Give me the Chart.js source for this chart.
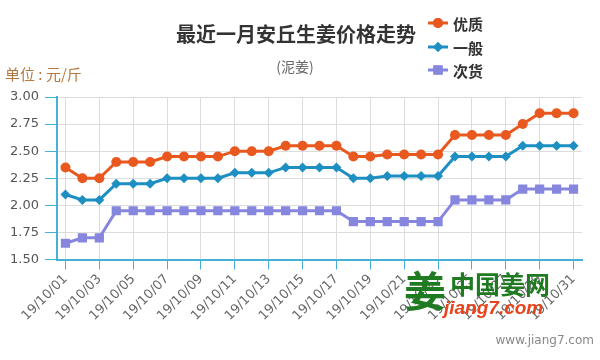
<!DOCTYPE html>
<html>
<head>
<meta charset="utf-8">
<script src="https://cdn.jsdelivr.net/npm/chart.js@4.4.0/dist/chart.umd.min.js"></script>
<style>
  html, body { margin: 0; padding: 0; background: #fff; }
  #wrap { width: 600px; height: 360px; position: relative; }
</style>
</head>
<body>
<div id="wrap"><canvas id="grafico" width="600" height="360"></canvas></div>
<script>
// Datos del gráfico
const fechas = ['19/10/01','19/10/02','19/10/03','19/10/04','19/10/05','19/10/06','19/10/07','19/10/08',
                '19/10/09','19/10/10','19/10/11','19/10/12','19/10/13','19/10/14','19/10/15','19/10/16',
                '19/10/17','19/10/18','19/10/19','19/10/20','19/10/21','19/10/22','19/10/23','19/10/24',
                '19/10/25','19/10/26','19/10/27','19/10/28','19/10/29','19/10/30','19/10/31'];
const youzhi = [2.35,2.25,2.25,2.40,2.40,2.40,2.45,2.45,2.45,2.45,2.50,2.50,2.50,2.55,2.55,2.55,
                2.55,2.45,2.45,2.47,2.47,2.47,2.47,2.65,2.65,2.65,2.65,2.75,2.85,2.85,2.85];
const yiban  = [2.10,2.05,2.05,2.20,2.20,2.20,2.25,2.25,2.25,2.25,2.30,2.30,2.30,2.35,2.35,2.35,
                2.35,2.25,2.25,2.27,2.27,2.27,2.27,2.45,2.45,2.45,2.45,2.55,2.55,2.55,2.55];
const cihuo  = [1.65,1.70,1.70,1.95,1.95,1.95,1.95,1.95,1.95,1.95,1.95,1.95,1.95,1.95,1.95,1.95,
                1.95,1.85,1.85,1.85,1.85,1.85,1.85,2.05,2.05,2.05,2.05,2.15,2.15,2.15,2.15];
const nombres = ['优质', '一般', '次货'];
const yMin = 1.5, yMax = 3.0, yPaso = 0.25;

const titulo = '最近一月安丘生姜价格走势';
const subtitulo = '(泥姜)';
const unidad = '单位 : 元/斤';

const azulEje = '#45b0d8';
const gris = '#dcdcdc';

// Plugin para títulos, leyenda y marca de agua
const textosPlugin = {
    id: 'textos',
    afterDraw(chart) {
        const ctx = chart.ctx;
        ctx.save();
        ctx.textBaseline = 'middle';

        ctx.textAlign = 'center';
        ctx.fillStyle = '#333';
        ctx.font = 'bold 20px "Noto Sans CJK SC"';
        ctx.fillText(titulo, 296, 34);

        ctx.fillStyle = '#666';
        ctx.font = '14px "Noto Sans CJK SC"';
        ctx.fillText(subtitulo, 295, 67);

        ctx.textAlign = 'left';
        ctx.fillStyle = '#b5793f';
        ctx.font = '15px "Noto Sans CJK SC"';
        ctx.fillText(unidad, 5, 74);

        // leyenda
        const ys = [23, 47, 70];
        chart.data.datasets.forEach((ds, i) => {
            const y = ys[i];
            ctx.strokeStyle = ds.borderColor;
            ctx.lineWidth = 3;
            ctx.beginPath();
            ctx.moveTo(428, y);
            ctx.lineTo(448, y);
            ctx.stroke();
            ctx.fillStyle = ds.pointBackgroundColor;
            Chart.helpers.drawPoint(ctx, {
                pointStyle: ds.pointStyle, radius: ds.pointRadius, rotation: 0, borderWidth: 0
            }, 438, y);
            ctx.fill();
            ctx.fillStyle = '#333';
            ctx.font = 'bold 15px "Noto Sans CJK SC"';
            ctx.fillText(ds.label, 453, y + 1);
        });

        // marca de agua
        ctx.fillStyle = '#1f7a22';
        ctx.font = 'bold 42px "Noto Sans CJK SC"';
        ctx.fillText('姜', 404, 291);
        ctx.font = 'bold 25px "Noto Sans CJK SC"';
        ctx.fillText('中国姜网', 450, 284);
        ctx.fillStyle = '#e8431c';
        ctx.font = 'italic bold 19px "Liberation Sans"';
        ctx.fillText('jiang7.com', 444, 309);

        ctx.textAlign = 'right';
        ctx.fillStyle = '#888';
        ctx.font = '12px "DejaVu Sans"';
        ctx.fillText('www.jiang7.com', 594, 341);
        ctx.restore();
    }
};

const ctx = document.getElementById('grafico').getContext('2d');
new Chart(ctx, {
    type: 'line',
    data: {
        labels: fechas,
        datasets: [
            {
                label: nombres[0],
                data: youzhi,
                borderColor: '#e8581f',
                backgroundColor: '#e8581f',
                pointBackgroundColor: '#e8581f',
                pointBorderWidth: 0,
                pointStyle: 'circle',
                pointRadius: 5,
                borderWidth: 3,
                tension: 0
            },
            {
                label: nombres[1],
                data: yiban,
                borderColor: '#1d8fc2',
                backgroundColor: '#1d8fc2',
                pointBackgroundColor: '#1d8fc2',
                pointBorderWidth: 0,
                pointStyle: 'rectRot',
                pointRadius: 5,
                borderWidth: 3,
                tension: 0
            },
            {
                label: nombres[2],
                data: cihuo,
                borderColor: '#8686df',
                backgroundColor: '#8686df',
                pointBackgroundColor: '#8686df',
                pointBorderWidth: 0,
                pointStyle: 'rect',
                pointRadius: 6.5,
                borderWidth: 3,
                tension: 0
            }
        ]
    },
    options: {
        responsive: false,
        animation: false,
        layout: { padding: { top: 97, right: 18, left: 0, bottom: 0 } },
        plugins: {
            legend: { display: false },
            title: { display: false },
            tooltip: { enabled: false }
        },
        scales: {
            x: {
                offset: true,
                afterFit: (s) => { s.height = 100.5; },
                border: { color: azulEje, width: 2 },
                grid: {
                    offset: false,
                    color: (c) => (c.index % 2 === 0 ? gris : 'rgba(0,0,0,0)'),
                    tickColor: (c) => (c.index % 2 === 0 ? azulEje : 'rgba(0,0,0,0)'),
                    tickLength: 10
                },
                ticks: {
                    autoSkip: false,
                    maxRotation: 45,
                    minRotation: 45,
                    padding: 2,
                    color: '#666',
                    font: { family: 'DejaVu Sans', size: 13 },
                    callback: function (v, i) { return i % 2 === 0 ? this.getLabelForValue(v) : ''; }
                }
            },
            y: {
                min: yMin,
                max: yMax,
                afterFit: (s) => { s.width = 57; },
                border: { color: azulEje, width: 2 },
                grid: { color: gris, tickColor: azulEje, tickLength: 12 },
                ticks: {
                    stepSize: yPaso,
                    padding: 6,
                    color: '#555',
                    font: { family: 'DejaVu Sans', size: 13 },
                    callback: (v) => v.toFixed(2)
                }
            }
        }
    },
    plugins: [textosPlugin]
});
</script>
</body>
</html>
